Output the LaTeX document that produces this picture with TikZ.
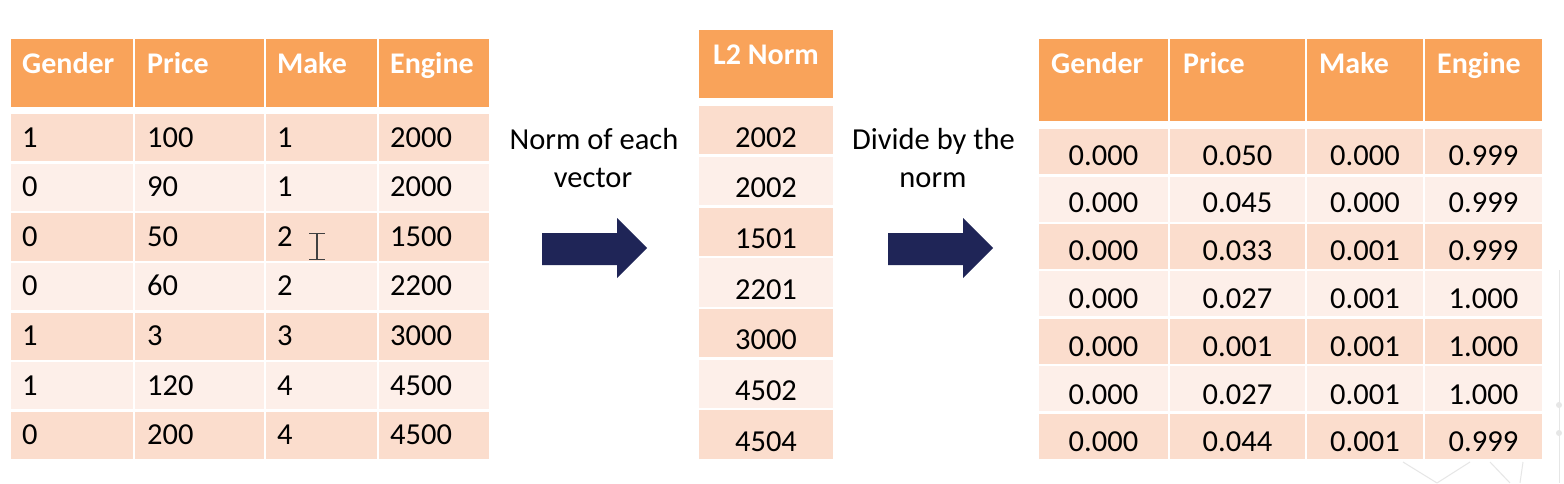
\documentclass[tikz,border=0pt]{standalone}
\usepackage{fontspec}
\setmainfont{Carlito}
\definecolor{hdr}{HTML}{F9A35A}
\definecolor{rowA}{HTML}{FBDDCD}
\definecolor{rowB}{HTML}{FDEFE9}
\definecolor{navy}{HTML}{1F2557}
\definecolor{faint}{HTML}{E6E6E6}
\begin{document}
\begin{tikzpicture}[x=1pt,y=-1pt,
  box/.style={draw=white, line width=2.5pt},
  txt/.style={inner sep=0pt, font=\fontsize{30.5}{36}\selectfont, text=black},
  htxt/.style={inner sep=0pt, font=\fontsize{30}{36}\selectfont\bfseries, text=white},
  blockarrow/.style={fill=navy},
  bgline/.style={draw=faint, line width=1pt}]
\useasboundingbox (0,0) rectangle (1564,483);
\fill[white] (0,0) rectangle (1564,483);

% faint background decoration
\draw[bgline] (1559,270) -- (1559,483);
\fill[faint] (1559,405) circle (3) (1559,433) circle (3);
\draw[bgline] (1403,462) -- (1437,483) (1470,462) -- (1437,483)
  (1490,462) -- (1510,483) (1523,462) -- (1520,483);

% ---------- left table ----------
\foreach \a/\b in {10/134,134/265,265/378,378/490} {
  \filldraw[box, fill=hdr] (\a,38) rectangle (\b,108);
  \foreach \r/\col in {0/rowA,1/rowB,2/rowA,3/rowB,4/rowA,5/rowB,6/rowA}
    \filldraw[box, fill=\col] (\a,113+49.6*\r) rectangle (\b,113+49.6*\r+49.6);
}
\foreach \x/\t [count=\c] in {22/Gender,147/Price,277/Make,390/Engine}
  \node[htxt, anchor=base west] (lh\c) at (\x,73) {\t};
\foreach \r/\va/\vb/\vc/\vd in {0/1/100/1/2000,1/0/90/1/2000,2/0/50/2/1500,
    3/0/60/2/2200,4/1/3/3/3000,5/1/120/4/4500,6/0/200/4/4500} {
  \node[txt, anchor=base west] (l\r a) at (22,147+49.6*\r) {\va};
  \node[txt, anchor=base west] (l\r b) at (147,147+49.6*\r) {\vb};
  \node[txt, anchor=base west] (l\r c) at (277,147+49.6*\r) {\vc};
  \node[txt, anchor=base west] (l\r d) at (390,147+49.6*\r) {\vd};
}
% text cursor
\draw[black!75, line width=1.6pt] (317,234) -- (317,259)
  (309,233.5) -- (325,233.5) (309,259.5) -- (325,259.5);

% ---------- arrows and labels ----------
\node[txt, anchor=base] (n1a) at (594,149) {Norm of each};
\node[txt, anchor=base] (n1b) at (593,187) {vector};
\fill[blockarrow] (542,233) -- (617,233) -- (617,218) -- (647,248)
  -- (617,278) -- (617,265) -- (542,265) -- cycle;

\node[txt, anchor=base] (n2a) at (933.5,149) {Divide by the};
\node[txt, anchor=base] (n2b) at (933,187) {norm};
\fill[blockarrow] (888,233) -- (963,233) -- (963,218) -- (993,248)
  -- (963,278) -- (963,265) -- (888,265) -- cycle;

% ---------- middle table ----------
\filldraw[box, fill=hdr] (698,29) rectangle (834,99);
\node[htxt, anchor=base] (mh) at (766,64) {L2 Norm};
\foreach \r/\col/\v in {0/rowA/2002,1/rowB/2002,2/rowA/1501,3/rowB/2201,
    4/rowA/3000,5/rowB/4502,6/rowA/4504} {
  \filldraw[box, fill=\col] (698,105+50.7*\r) rectangle (834,105+50.7*\r+50.7);
  \node[txt, anchor=base] (m\r) at (766,147+50.7*\r) {\v};
}

% ---------- right table ----------
\foreach \a/\b in {1038/1169,1169/1306,1306/1424,1424/1543} {
  \filldraw[box, fill=hdr] (\a,38) rectangle (\b,122);
  \foreach \r/\col in {0/rowA,1/rowB,2/rowA,3/rowB,4/rowA,5/rowB,6/rowA}
    \filldraw[box, fill=\col] (\a,128+47.4*\r) rectangle (\b,128+47.4*\r+47.4);
}
\foreach \x/\t [count=\c] in {1051/Gender,1183/Price,1319/Make,1437/Engine}
  \node[htxt, anchor=base west] (rh\c) at (\x,73) {\t};
\foreach \r/\va/\vb/\vc/\vd in {0/0.000/0.050/0.000/0.999,1/0.000/0.045/0.000/0.999,
    2/0.000/0.033/0.001/0.999,3/0.000/0.027/0.001/1.000,4/0.000/0.001/0.001/1.000,
    5/0.000/0.027/0.001/1.000,6/0.000/0.044/0.001/0.999} {
  \node[txt, anchor=base] (r\r a) at (1103.5,165+47.8*\r) {\va};
  \node[txt, anchor=base] (r\r b) at (1237.5,165+47.8*\r) {\vb};
  \node[txt, anchor=base] (r\r c) at (1365,165+47.8*\r) {\vc};
  \node[txt, anchor=base] (r\r d) at (1483.5,165+47.8*\r) {\vd};
}
\end{tikzpicture}
\end{document}
